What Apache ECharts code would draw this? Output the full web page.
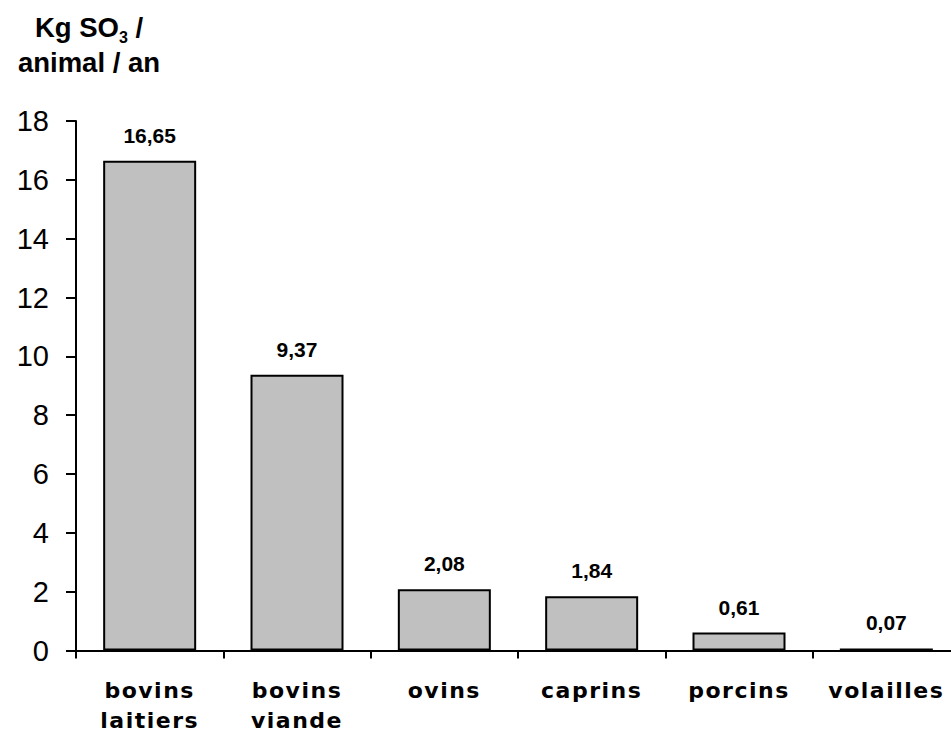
<!DOCTYPE html>
<html>
<head>
<meta charset="utf-8">
<script src="https://cdn.jsdelivr.net/npm/echarts@6/dist/echarts.min.js"></script>
<style>
  html, body { margin: 0; padding: 0; background: #fff; }
  #chart { width: 951px; height: 733px; }
  /* the bold category captions are set wide */
  #chart text[style*="22px"] { letter-spacing: 1.5px; }
</style>
</head>
<body>
<div id="chart"></div>
<script>
// Sulphur emissions per animal and per year, by livestock type
const categories = ['bovins\nlaitiers', 'bovins\nviande', 'ovins', 'caprins', 'porcins', 'volailles'];
const emissions = [16.65, 9.37, 2.08, 1.84, 0.61, 0.07];
const yMin = 0;
const yMax = 18;
const yStep = 2;

const FONT = 'Liberation Sans';
const WIDE_FONT = 'DejaVu Sans';

const chart = echarts.init(document.getElementById('chart'), null, { renderer: 'svg' });

chart.setOption({
  animation: false,
  backgroundColor: '#ffffff',
  title: {
    text: '{a|Kg SO}{s|3}{a| /}\n{a|animal / an}',
    left: 89,
    top: 10,
    padding: 0,
    textAlign: 'center',
    textStyle: {
      rich: {
        a: { fontFamily: FONT, fontSize: 27.5, fontWeight: 'bold', color: '#000', lineHeight: 35 },
        s: { fontFamily: FONT, fontSize: 16, fontWeight: 'bold', color: '#000', lineHeight: 21, verticalAlign: 'bottom' }
      }
    }
  },
  grid: {
    left: 76,
    right: -9,
    top: 121,
    bottom: 82.5,
    containLabel: false,
    outerBoundsMode: 'none'
  },
  xAxis: {
    type: 'category',
    data: categories,
    boundaryGap: true,
    axisLine: { show: true, lineStyle: { color: '#000', width: 2 } },
    axisTick: { show: true, length: 8, lineStyle: { color: '#000', width: 2 } },
    axisLabel: {
      color: '#000',
      fontFamily: WIDE_FONT,
      fontSize: 22,
      fontWeight: 'bold',
      lineHeight: 30,
      margin: 25,
      interval: 0
    },
    splitLine: { show: false }
  },
  yAxis: {
    type: 'value',
    min: yMin,
    max: yMax,
    interval: yStep,
    axisLine: { show: true, lineStyle: { color: '#000', width: 2 } },
    axisTick: { show: true, length: 10, lineStyle: { color: '#000', width: 2 } },
    axisLabel: {
      color: '#000',
      fontFamily: FONT,
      fontSize: 29,
      margin: 27
    },
    splitLine: { show: false }
  },
  series: [{
    type: 'bar',
    data: emissions,
    barWidth: 93,
    itemStyle: { color: '#c0c0c0', borderColor: '#000', borderWidth: 2 },
    label: {
      show: true,
      position: 'top',
      distance: 15,
      color: '#000',
      fontFamily: FONT,
      fontSize: 21,
      fontWeight: 'bold',
      formatter: p => p.value.toFixed(2).replace('.', ',')
    }
  }]
});
</script>
</body>
</html>
